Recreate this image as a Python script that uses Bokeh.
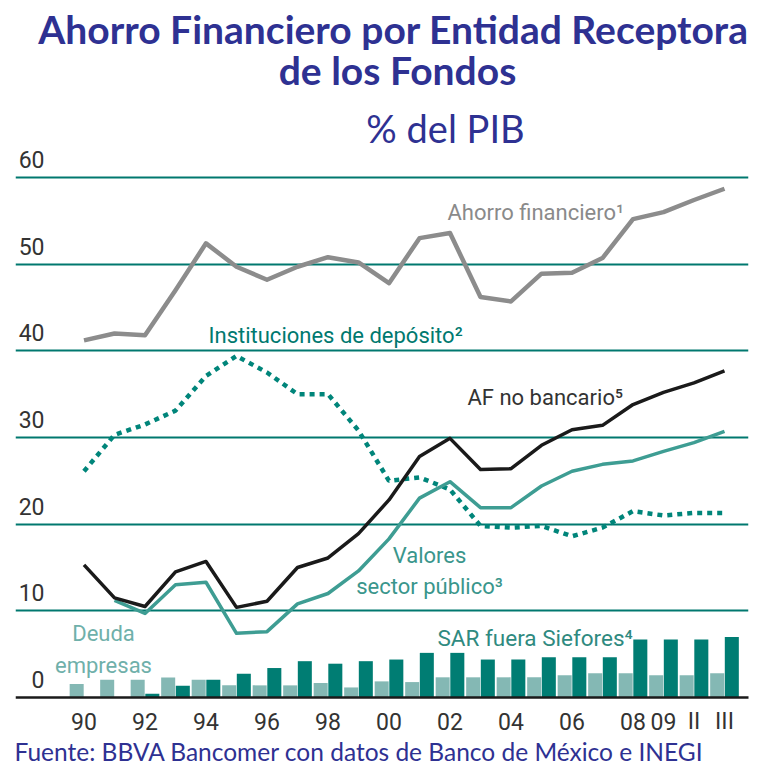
from bokeh.plotting import figure
from bokeh.models import FixedTicker, ColumnDataSource
from bokeh.transform import dodge
from bokeh.core.properties import value
from bokeh.embed import file_html
from bokeh.resources import INLINE

nan = float("nan")

categories = ["1990", "1991", "1992", "1993", "1994", "1995", "1996", "1997",
              "1998", "1999", "2000", "2001", "2002", "2003", "2004", "2005",
              "2006", "2007", "2008", "2009", "2010-II", "2010-III"]
tick_positions = [0, 2, 4, 6, 8, 10, 12, 14, 16, 18, 19, 20, 21]
tick_labels = ["90", "92", "94", "96", "98", "00", "02", "04", "06", "08", "09", "II", "III"]
y_ticks = [0, 10, 20, 30, 40, 50, 60]

ahorro_financiero = [41.2, 42.0, 41.8, 47.0, 52.4, 49.7, 48.2, 49.7, 50.8, 50.2, 47.8,
                     53.0, 53.6, 46.2, 45.7, 48.9, 49.0, 50.7, 55.2, 56.0, 57.4, 58.7]
af_no_bancario = [15.3, 11.5, 10.5, 14.5, 15.7, 10.4, 11.1, 15.0, 16.1, 18.9, 22.8,
                  27.8, 29.9, 26.3, 26.4, 29.1, 30.9, 31.4, 33.8, 35.2, 36.3, 37.7]
valores_sector_publico = [nan, 11.2, 9.7, 13.0, 13.3, 7.4, 7.6, 10.8, 12.0, 14.6, 18.3,
                          23.0, 24.9, 21.9, 21.9, 24.4, 26.1, 26.9, 27.3, 28.4, 29.4, 30.7]
instituciones_deposito = [26.1, 30.3, 31.5, 33.1, 37.1, 39.4, 37.5, 35.0, 35.0, 30.8, 25.0,
                          25.4, 24.0, 19.8, 19.6, 19.8, 18.6, 19.6, 21.5, 21.0, 21.3, 21.3]
deuda_empresas = [1.55, 2.05, 2.05, 2.3, 2.05, 1.4, 1.4, 1.4, 1.67, 1.16, 1.86,
                  1.78, 2.33, 2.33, 2.33, 2.33, 2.56, 2.79, 2.79, 2.56, 2.56, 2.79]
sar_fuera_siefores = [0.0, 0.0, 0.43, 1.36, 2.05, 2.75, 3.4, 4.19, 3.9, 4.19, 4.38,
                      5.15, 5.15, 4.38, 4.38, 4.65, 4.65, 4.65, 6.7, 6.7, 6.7, 6.98]

x = list(range(len(categories)))
src = ColumnDataSource(dict(
    x=x, cat=categories, af=ahorro_financiero, afnb=af_no_bancario,
    val=valores_sector_publico, inst=instituciones_deposito,
    deuda=deuda_empresas, sar=sar_fuera_siefores))

BLUE = "#2E3192"
TEAL_GRID = "#00786F"
DARK_BAR = "#007D73"
LIGHT_BAR = "#84B8B4"
GRAY = "#8C8C8C"
VAL_TEAL = "#3E9D93"
DOT_TEAL = "#00857A"
ROBOTO = value("Roboto")
LATO = value("Lato")

W, H = 755, 768
FRAME_L, FRAME_R = 15, 748          # pixel extent of the plot frame
X0_PX, X_STEP = 83.5, 30.5          # pixel of first category, pixels per category
Y0_PX, Y_STEP = 697.0, 8.667        # pixel of value 0, pixels per unit


def px_x(px):
    return (px - X0_PX) / X_STEP


def px_y(py):
    return (Y0_PX - py) / Y_STEP


p = figure(width=W, height=H,
           x_range=(px_x(FRAME_L), px_x(FRAME_R)), y_range=(px_y(H), px_y(0)),
           output_backend="svg", toolbar_location=None,
           min_border_left=FRAME_L, min_border_right=W - FRAME_R,
           min_border_top=0, min_border_bottom=0)
p.outline_line_color = None
p.background_fill_color = "white"
p.border_fill_color = "white"
p.xaxis.visible = False
p.yaxis.visible = False

# grid
p.ygrid.ticker = FixedTicker(ticks=y_ticks[1:])
p.ygrid.grid_line_color = TEAL_GRID
p.ygrid.grid_line_width = 2
p.xgrid.grid_line_color = None

# bars
p.vbar(x=dodge("x", -0.24, range=p.x_range), top="deuda", width=0.46, source=src,
       fill_color=LIGHT_BAR, line_color=None)
p.vbar(x=dodge("x", 0.24, range=p.x_range), top="sar", width=0.46, source=src,
       fill_color=DARK_BAR, line_color=None)

# lines
p.line("x", "af", source=src, line_color=GRAY, line_width=4.5, line_join="round")
p.line("x", "inst", source=src, line_color=DOT_TEAL, line_width=4.5, line_dash="5 5")
p.line("x", "val", source=src, line_color=VAL_TEAL, line_width=3.5, line_join="round")
p.line("x", "afnb", source=src, line_color="#1a1a1a", line_width=3.5, line_join="round")

# zero baseline
p.ray(x=[px_x(FRAME_L)], y=[0], length=0, angle=0, line_color="#1a1a1a", line_width=2.5)

# y tick labels, above the grid lines
p.text(x=[px_x(44)] * len(y_ticks), y=y_ticks, text=[str(t) for t in y_ticks],
       text_align="right", text_baseline="middle", y_offset=-18,
       text_font=ROBOTO, text_font_size="23px", text_color="#333333")

# x tick labels
p.text(x=tick_positions, y=[0] * len(tick_positions), text=tick_labels,
       text_align="center", text_baseline="middle", y_offset=24,
       text_font=ROBOTO, text_font_size="23px", text_color="#333333")


def note(txt, px, py, color, align="left", size="22px", font=ROBOTO, style="normal"):
    p.text(x=[px_x(px)], y=[px_y(py)], text=[txt], text_align=align,
           text_baseline="middle", text_font=font, text_font_size=size,
           text_font_style=style, text_color=color)


# series annotations
note("Ahorro financiero¹", 447, 212, "#8a8a8a")
note("Instituciones de depósito²", 208, 335, "#00796F")
note("AF no bancario⁵", 467, 397, "#333333")
note("Valores", 429, 555, "#3a968c", "center")
note("sector público³", 429, 586, "#3a968c", "center")
note("Deuda", 103, 633, "#6fb0aa", "center")
note("empresas", 103, 665, "#6fb0aa", "center")
note("SAR fuera Siefores⁴", 437, 637, "#2f8a80", size="22.5px")

# titles and source
note("Ahorro Financiero por Entidad Receptora", 393, 28, BLUE, "center", "39px", LATO, "bold")
note("de los Fondos", 397, 69, BLUE, "center", "39px", LATO, "bold")
note("% del PIB", 445, 127, BLUE, "center", "38px", LATO)
note("Fuente: BBVA Bancomer con datos de Banco de México e INEGI", 14, 751, BLUE,
     "left", "24.5px", LATO)

open("out.html", "w").write(file_html(p, INLINE))
